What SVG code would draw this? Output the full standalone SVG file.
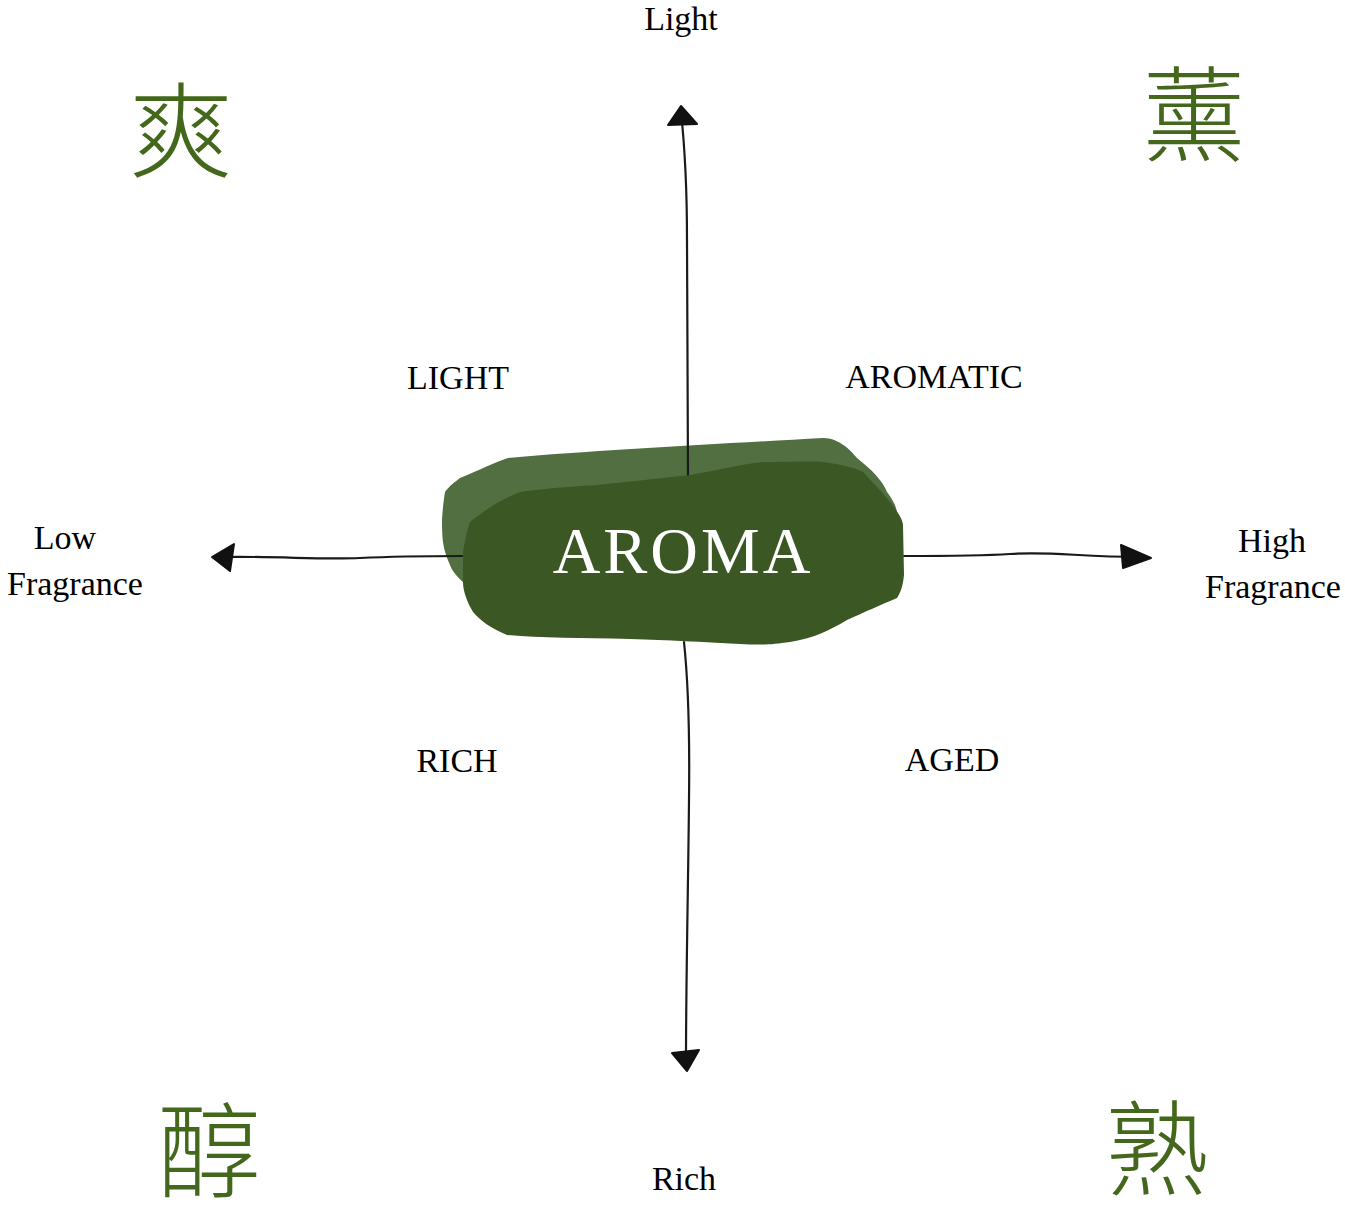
<svg xmlns="http://www.w3.org/2000/svg" width="1345" height="1221" viewBox="0 0 1345 1221">
<style>
.lbl{font-family:"Liberation Serif","DejaVu Serif",serif;font-size:34px;fill:#000}
.cjk{font-family:"Noto Sans CJK SC","Noto Sans CJK TC",sans-serif;font-size:104px;fill:#44681b;font-weight:300}
.ax{fill:none;stroke:#1a1a1a;stroke-width:2.2;stroke-linecap:round}
.ah{fill:#111;stroke:#111;stroke-width:2;stroke-linejoin:round}
</style>
<rect width="1345" height="1221" fill="#fff"/>
<g id="blob-back">
<path d="M508,458 C600,450 720,444 823,438 C840,438 852,452 857,458 C872,470 882,480 887,492 C893,500 896,506 897,512 L900,560 L463,582 C455,575 452,570 450,565 C444,550 442,545 442,520 C443,505 444,498 445,492 C450,485 455,482 460,478 C480,470 495,462 508,458 Z" fill="#526f42"/>
</g>
<g id="connectors">
<path class="ax" d="M681,112 C684,140 687,180 687,240 C688,320 688,400 688,478"/>
<path class="ax" d="M684,642 C688,680 690,720 689,800 C688,900 686,980 686,1060"/>
<path class="ax" d="M462,556 C420,556 400,556 360,558 C320,560 280,556 222,557"/>
<path class="ax" d="M904,556 C950,556 980,556 1010,554 C1050,551 1080,557 1140,557"/>
<polygon class="ah" points="681,106 668,125 697,124"/>
<polygon class="ah" points="687,1071 672,1053 699,1050"/>
<polygon class="ah" points="212,557 234,544 230,571"/>
<polygon class="ah" points="1151,558 1121,545 1123,568"/>
</g>
<g id="node-aroma">
<path d="M520,492 C560,487 580,486 597,485 C630,482 660,478 690,475 C720,470 740,464 763,462 C790,462 805,461 823,462 C845,465 855,468 863,472 C875,485 885,495 890,502 C898,512 903,520 903,525 L904,575 C903,585 901,592 897,598 C880,605 865,612 847,620 C830,630 815,638 790,642 C770,645 760,645 740,644 C700,642 670,640 630,639 C580,638 540,638 507,635 C490,628 480,620 473,612 C466,600 463,590 463,582 L463,552 C465,540 467,530 470,522 C485,510 500,500 520,492 Z" fill="#3b5724"/>
<text x="683" y="573" text-anchor="middle" font-family="'Liberation Serif','DejaVu Serif',serif" font-size="66" letter-spacing="3" fill="#fff">AROMA</text>
</g>
<g id="labels">
<text class="lbl" x="681" y="30" text-anchor="middle">Light</text>
<text class="lbl" x="684" y="1190" text-anchor="middle">Rich</text>
<text class="lbl" x="65" y="549" text-anchor="middle">Low</text>
<text class="lbl" x="75" y="595" text-anchor="middle">Fragrance</text>
<text class="lbl" x="1272" y="552" text-anchor="middle">High</text>
<text class="lbl" x="1273" y="598" text-anchor="middle">Fragrance</text>
<text class="lbl" x="458" y="389" text-anchor="middle">LIGHT</text>
<text class="lbl" x="934" y="388" text-anchor="middle">AROMATIC</text>
<text class="lbl" x="457" y="772" text-anchor="middle">RICH</text>
<text class="lbl" x="952" y="771" text-anchor="middle">AGED</text>
</g>
<g id="chars">
<text class="cjk" x="181" y="170" text-anchor="middle">爽</text>
<text class="cjk" x="1194" y="154" text-anchor="middle">薰</text>
<text class="cjk" x="209" y="1190" text-anchor="middle" font-size="100">醇</text>
<text class="cjk" x="1157" y="1188" text-anchor="middle" font-size="100">熟</text>
</g>
</svg>
